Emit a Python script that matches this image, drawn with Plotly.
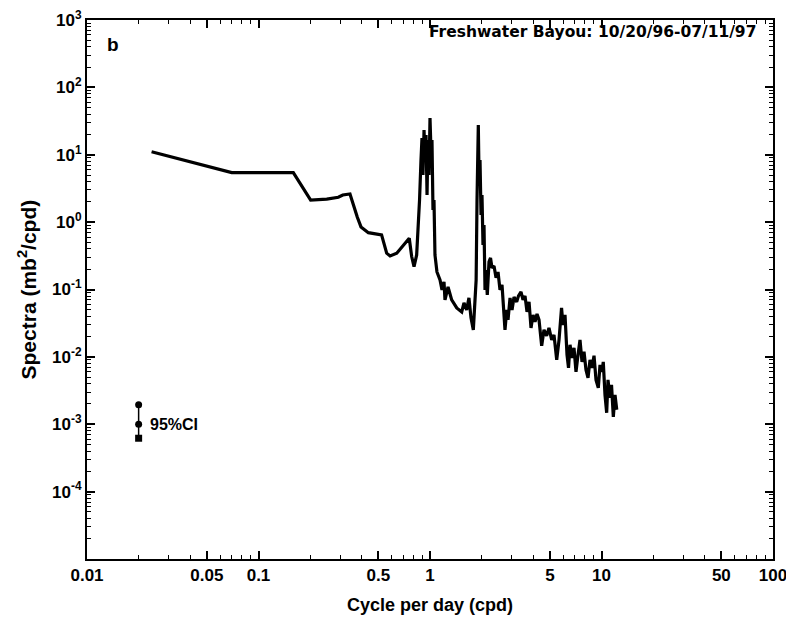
import math
import plotly.graph_objects as go

# Spectrum (frequency in cpd, spectra in mb^2/cpd)
freq = [0.0238, 0.0698, 0.1596, 0.2014, 0.250, 0.292, 0.310, 0.3415, 0.377, 0.396,
        0.437, 0.522, 0.559, 0.585, 0.640, 0.699, 0.757, 0.782, 0.807, 0.836,
        0.851, 0.869, 0.886, 0.898, 0.910, 0.923, 0.935, 0.948, 0.961, 0.973,
        0.987, 1.000, 1.013, 1.027, 1.041, 1.055, 1.069, 1.098, 1.144, 1.175,
        1.207, 1.223, 1.274, 1.338, 1.432, 1.531, 1.578, 1.636, 1.687, 1.734,
        1.789, 1.828, 1.858, 1.880, 1.900, 1.913, 1.931, 1.957, 1.984, 2.010,
        2.037, 2.065, 2.093, 2.121, 2.158, 2.208, 2.254, 2.299, 2.362, 2.427,
        2.493, 2.559, 2.630, 2.676, 2.737, 2.802, 2.851, 2.929, 3.008, 3.090,
        3.203, 3.281, 3.393, 3.486, 3.581, 3.679, 3.780, 3.882, 3.988, 4.096,
        4.207, 4.322, 4.479, 4.621, 4.786, 4.940, 5.124, 5.284, 5.481, 5.654,
        5.848, 5.964, 6.127, 6.294, 6.422, 6.553, 6.730, 6.914, 7.101, 7.295,
        7.493, 7.698, 7.907, 8.122, 8.344, 8.570, 8.803, 9.044, 9.290, 9.579,
        9.802, 10.07, 10.24, 10.48, 10.72, 10.91, 11.21, 11.44, 11.72, 11.99,
        12.27]
spec = [11.1, 5.42, 5.42, 2.13, 2.19, 2.34, 2.53, 2.62, 1.18, 0.849,
        0.698, 0.646, 0.346, 0.315, 0.346, 0.459, 0.577, 0.308, 0.219, 0.326,
        0.646, 2.13, 8.37, 17.7, 5.01, 23.3, 8.37, 19.7, 2.53, 16.6,
        5.01, 35.2, 11.8, 16.6, 1.52, 2.13, 0.326, 0.182, 0.139, 0.0986,
        0.130, 0.0702, 0.109, 0.0702, 0.0533, 0.0465, 0.0633, 0.0498, 0.0750, 0.0379,
        0.0252, 0.0591, 0.139, 2.13, 11.8, 27.7, 5.01, 8.37, 1.28, 2.53,
        0.459, 0.908, 0.0986, 0.195, 0.0832, 0.257, 0.294, 0.209, 0.224, 0.149,
        0.182, 0.0986, 0.117, 0.0591, 0.0252, 0.0498, 0.0354, 0.0750, 0.0498, 0.0776,
        0.0655, 0.0804, 0.0920, 0.0702, 0.0804, 0.0465, 0.0655, 0.0269, 0.0420, 0.0330,
        0.0434, 0.0354, 0.0146, 0.0252, 0.0205, 0.0269, 0.0179, 0.0212, 0.00902, 0.0179,
        0.0533, 0.0298, 0.0420, 0.0107, 0.00687, 0.0151, 0.00966, 0.0136, 0.00598, 0.0107,
        0.0179, 0.00843, 0.0119, 0.00641, 0.00488, 0.00902, 0.00687, 0.0104, 0.00456, 0.00347,
        0.00761, 0.00598, 0.00843, 0.00273, 0.00148, 0.00456, 0.00247, 0.00385, 0.00129, 0.00273,
        0.00164]

# 95% confidence interval marker
ci_f = [0.02, 0.02, 0.02]
ci_s = [0.00194, 0.001, 0.00062]
ci_label = "95%CI"

x_ticks = [0.01, 0.05, 0.1, 0.5, 1, 5, 10, 50, 100]
x_ticklabels = ["0.01", "0.05", "0.1", "0.5", "1", "5", "10", "50", "100"]
y_ticks = [1e-4, 1e-3, 1e-2, 1e-1, 1, 10, 100, 1000]
y_ticklabels = ["10<sup>-4</sup>", "10<sup>-3</sup>", "10<sup>-2</sup>", "10<sup>-1</sup>",
                "10<sup>0</sup>", "10<sup>1</sup>", "10<sup>2</sup>", "10<sup>3</sup>"]

FONT = "Liberation Sans"
WIDE = "DejaVu Sans"

fig = go.Figure()
fig.add_trace(go.Scatter(x=freq, y=spec, mode="lines",
                         line=dict(color="black", width=3.2), showlegend=False))
fig.add_trace(go.Scatter(x=ci_f, y=ci_s, mode="lines+markers",
                         line=dict(color="black", width=1.5),
                         marker=dict(color="black", size=7, symbol=["circle", "circle", "square"]),
                         showlegend=False))

fig.add_annotation(x=math.log10(0.0227), y=math.log10(ci_s[1]), xref="x", yref="y",
                   text="<b>%s</b>" % ci_label,
                   showarrow=False, xanchor="left", yanchor="middle",
                   font=dict(family=FONT, size=16, color="black"))
fig.add_annotation(x=0.026, xref="paper", y=0.954, yref="paper", text="<b>b</b>",
                   showarrow=False, xanchor="left", yanchor="middle",
                   font=dict(family=FONT, size=19, color="black"))
fig.add_annotation(x=0.978, xref="paper", y=0.978, yref="paper",
                   text="<b>Freshwater Bayou: 10/20/96-07/11/97</b>",
                   showarrow=False, xanchor="right", yanchor="middle",
                   font=dict(family=WIDE, size=15.5, color="black"))
# axis titles
fig.add_annotation(x=0.5, xref="paper", y=-0.0853, yref="paper",
                   text="<b>Cycle per day (cpd)</b>",
                   showarrow=False, xanchor="center", yanchor="middle",
                   font=dict(family=FONT, size=18, color="black"))
fig.add_annotation(x=-0.0875, xref="paper", y=0.5, yref="paper",
                   text="<b>Spectra (mb<sup>2</sup>/cpd)</b>", textangle=-90,
                   showarrow=False, xanchor="center", yanchor="middle",
                   font=dict(family=FONT, size=21, color="black"))

axis_common = dict(showline=True, linecolor="black", linewidth=2, mirror="ticks",
                   ticks="inside", tickcolor="black", tickwidth=1.5, ticklen=8,
                   showgrid=False, zeroline=False, automargin=False,
                   ticklabeloverflow="allow",
                   tickfont=dict(family=FONT, size=17, color="black"))

fig.update_xaxes(type="log", range=[-2, 2], tickmode="array", tickvals=x_ticks,
                 ticktext=["<b>%s</b>" % t for t in x_ticklabels],
                 minor=dict(ticks="inside", ticklen=4, dtick="D1", tickcolor="black", tickwidth=1),
                 **axis_common)
fig.update_yaxes(type="log", range=[-5, 3], tickmode="array", tickvals=y_ticks,
                 ticktext=["<b>%s</b>" % t for t in y_ticklabels],
                 minor=dict(ticks="inside", ticklen=4, dtick="D1", tickcolor="black", tickwidth=1),
                 **axis_common)

# The page body has an 8px default margin, so the figure is sized to fit inside it.
fig.update_layout(width=786, height=613, plot_bgcolor="white", paper_bgcolor="white",
                  margin=dict(l=79, r=21, t=12, b=62), showlegend=False)

fig.write_html("out.html")
